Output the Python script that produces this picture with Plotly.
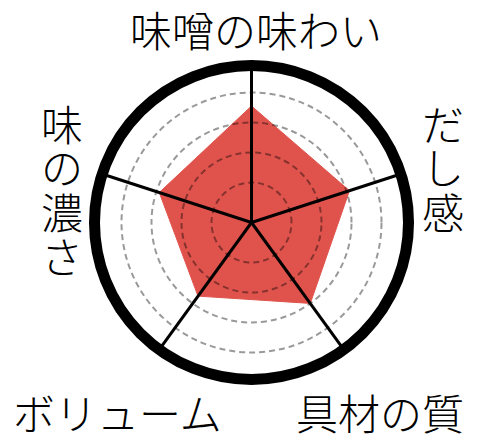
import plotly.graph_objects as go

# --- data ---
categories = ['味噌の味わい', 'だし感', '具材の質', 'ボリューム', '味の濃さ']
scores = [3.55, 3.1, 3.0, 2.7, 2.9]
grid_ticks = [1, 2, 3, 4]
r_range = [-1 / 3, 4.9]

# the page body adds an 8px margin, so the figure is drawn 8px smaller
OFF = 8
W, H = 500 - OFF, 441 - OFF
FONT = 'Noto Sans CJK JP'
RED = '#E0534C'

# label centres in window px (x, y of first char, stacked vertically?)
label_pos = {
    '味噌の味わい': (256, 29, False),
    'だし感': (443, 122, True),
    '具材の質': (380, 411, False),
    'ボリューム': (117, 411, False),
    '味の濃さ': (62, 122, True),
}
LINE_PITCH = 44

theta = categories + categories[:1]
r = scores + scores[:1]

fig = go.Figure()

# filled pentagon on the base polar
fig.add_trace(go.Scatterpolar(
    r=r, theta=theta, subplot='polar',
    mode='lines', fill='toself',
    fillcolor=RED, line=dict(color=RED, width=1),
    hoverinfo='skip', showlegend=False,
))
# invisible trace so the overlay polar (grid, spokes, ring) gets drawn on top
fig.add_trace(go.Scatterpolar(
    r=r, theta=theta, subplot='polar2',
    mode='lines', line=dict(width=0), opacity=0,
    hoverinfo='skip', showlegend=False,
))

# --- axes ---
cx, cy, R = 251.5 - OFF, 222.5 - OFF, 157
domain = dict(x=[(cx - R) / W, (cx + R) / W],
              y=[(H - cy - R) / H, (H - cy + R) / H])

base_ang = dict(rotation=90, direction='clockwise', categoryorder='array',
                categoryarray=categories)

fig.update_layout(
    polar=dict(
        domain=domain, bgcolor='white',
        radialaxis=dict(range=r_range, visible=False),
        angularaxis=dict(**base_ang, showgrid=False, showline=False,
                         showticklabels=False, ticks=''),
    ),
    polar2=dict(
        domain=domain, bgcolor='rgba(0,0,0,0)',
        radialaxis=dict(range=r_range, tickvals=grid_ticks, showline=False,
                        showticklabels=False, ticks='',
                        gridcolor='rgba(0,0,0,0.4)', gridwidth=2,
                        griddash='6px,4px'),
        angularaxis=dict(**base_ang, showticklabels=False, ticks='',
                         gridcolor='black', gridwidth=2.5,
                         showline=True, linecolor='black', linewidth=11),
    ),
)

# --- labels ---
annotations = []
for name in categories:
    x, y, vertical = label_pos[name]
    parts = list(name) if vertical else [name]
    for i, txt in enumerate(parts):
        annotations.append(dict(
            text=txt, x=(x - OFF) / W, y=1 - (y - OFF + i * LINE_PITCH) / H,
            xref='paper', yref='paper', xanchor='center', yanchor='middle',
            showarrow=False,
            font=dict(family=FONT, size=42, color='black', weight=300),
        ))

fig.update_layout(
    annotations=annotations,
    width=W, height=H,
    margin=dict(l=0, r=0, t=0, b=0),
    paper_bgcolor='white',
    showlegend=False,
)

fig.write_html('out.html')
